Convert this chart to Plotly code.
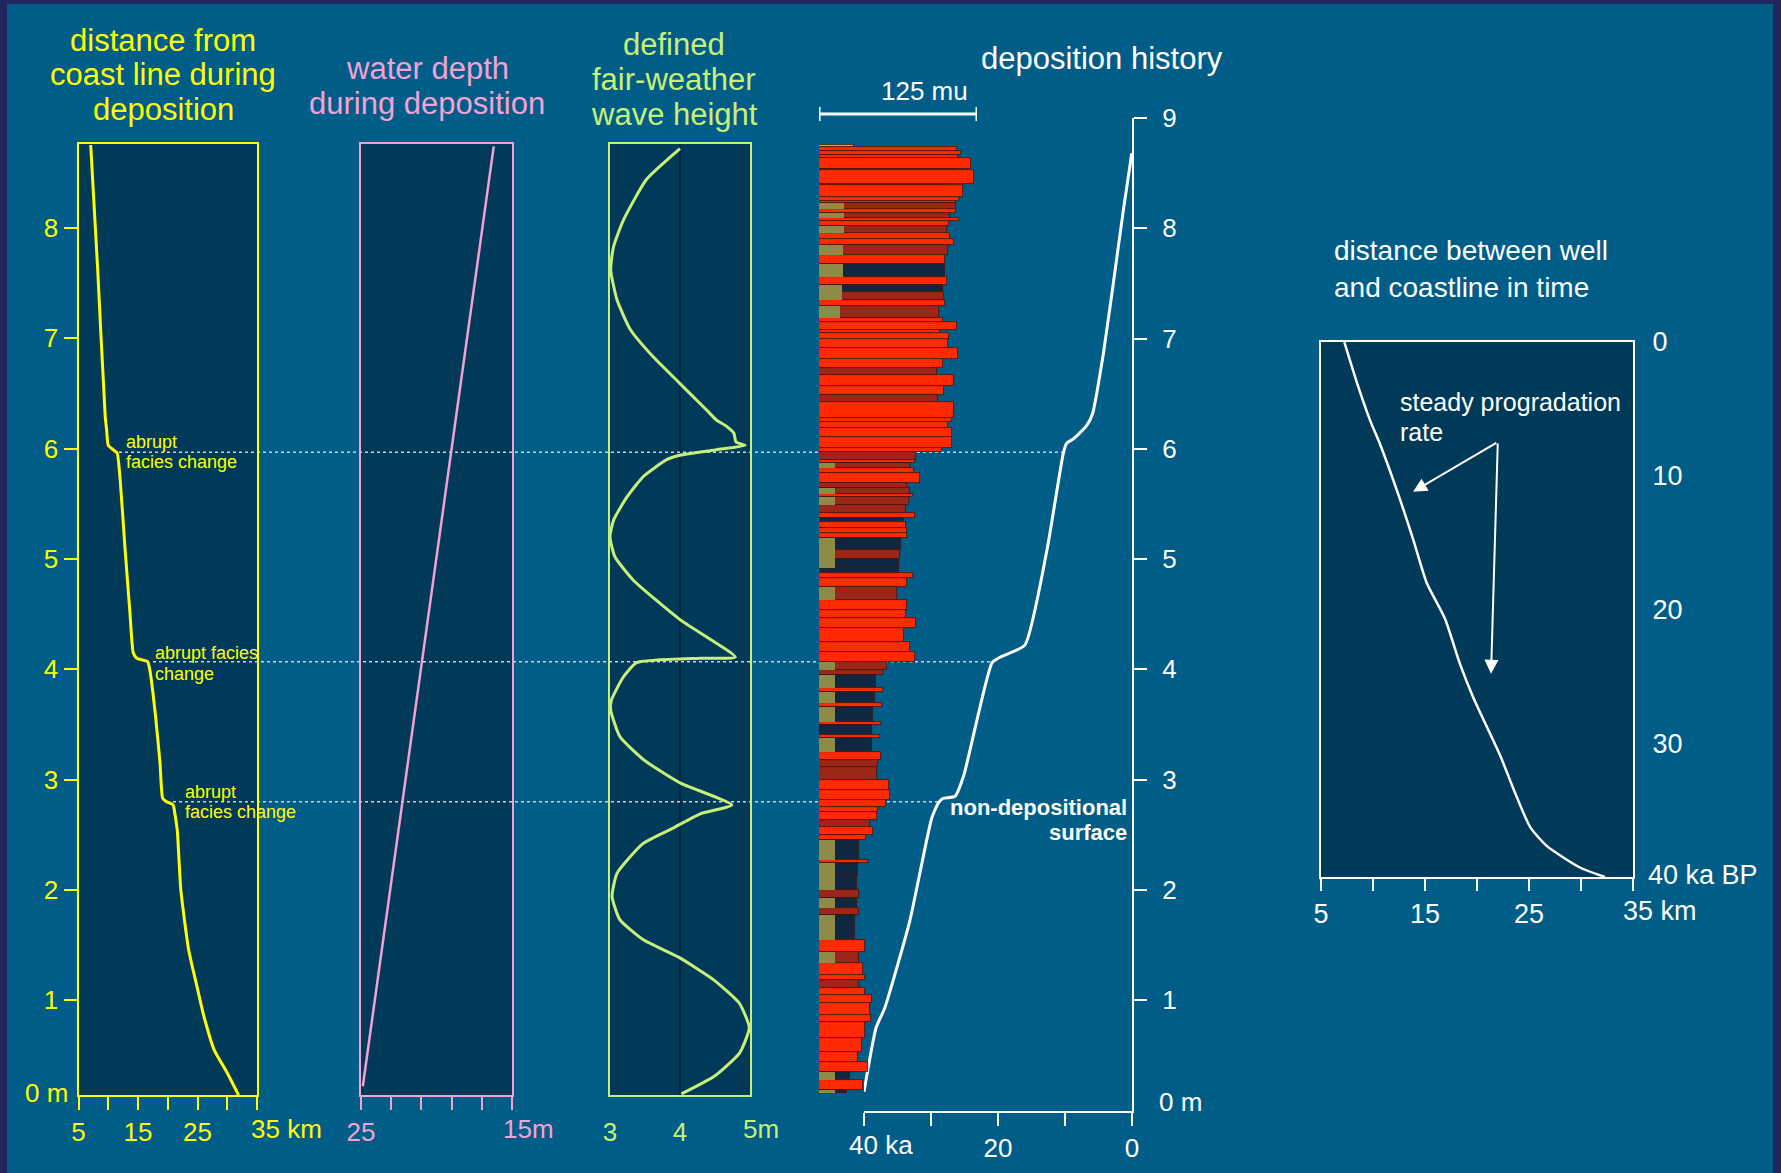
import plotly.graph_objects as go

W, H = 1781, 1173

# ---------------- data ----------------
# Panel 1: distance from coast line during deposition (km) against depth (m)
coast_depth = [8.753, 7.65, 6.29, 6.17, 6.03, 5.99, 5.96, 5.72, 5.11, 4.51, 4.15, 4.10, 4.07, 3.99,
               3.60, 3.15, 2.83, 2.80, 2.77, 2.69, 2.54, 2.0, 1.46, 1.15, 0.85, 0.55, 0.34, 0.14]
coast_km = [7.05, 8.2, 9.49, 9.73, 10.0, 10.85, 11.5, 12.0, 12.8, 13.65, 14.2, 14.8, 16.6, 17.0,
            17.9, 18.7, 19.15, 19.8, 20.9, 21.2, 21.6, 22.2, 23.5, 24.8, 26.1, 27.8, 30.0, 31.9]

# Panel 2: water depth during deposition (m)
water_depth_pos = [0.22, 8.74]
water_depth_m = [24.88, 16.21]

# Panel 3: defined fair-weather wave height (m)
wave_depth = [8.72, 8.44, 8.07, 7.83, 7.62, 7.35, 7.08, 6.83, 6.59, 6.35, 6.26, 6.20, 6.14, 6.06,
              6.03, 5.99, 5.94, 5.90, 5.75, 5.56, 5.35, 5.20, 5.02, 4.81, 4.45, 4.11, 4.10, 4.06,
              3.93, 3.72, 3.63, 3.39, 3.18, 2.97, 2.77, 2.69, 2.56, 2.42, 2.15, 1.94, 1.73, 1.55,
              1.39, 1.18, 0.97, 0.75, 0.52, 0.31, 0.15]
wave_height = [4.0, 3.52, 3.19, 3.05, 3.01, 3.10, 3.29, 3.62, 4.0, 4.38, 4.52, 4.67, 4.77, 4.80,
               4.93, 4.52, 4.00, 3.81, 3.48, 3.24, 3.05, 3.00, 3.07, 3.33, 4.00, 4.79, 4.29, 3.38,
               3.19, 3.02, 3.01, 3.14, 3.48, 4.00, 4.74, 4.29, 3.90, 3.47, 3.10, 3.03, 3.14, 3.47,
               3.98, 4.49, 4.85, 4.99, 4.85, 4.49, 4.02]

# Deposition column: bed boundaries (m, top to bottom), bed size (mu), kind, olive part (mu)
bed_bounds = [8.753, 8.735, 8.700, 8.660, 8.633, 8.542, 8.527, 8.400, 8.391, 8.285, 8.250, 8.225,
              8.173, 8.143, 8.090, 8.064, 8.022, 7.953, 7.907, 7.847, 7.756, 7.672, 7.560, 7.484,
              7.420, 7.348, 7.297, 7.188, 7.146, 7.076, 7.046, 6.995, 6.910, 6.819, 6.729, 6.668,
              6.571, 6.487, 6.426, 6.281, 6.245, 6.185, 6.109, 6.009, 5.967, 5.900, 5.868, 5.822,
              5.777, 5.686, 5.641, 5.590, 5.560, 5.490, 5.414, 5.369, 5.339, 5.278, 5.233, 5.188,
              5.082, 5.000, 4.916, 4.870, 4.825, 4.749, 4.628, 4.538, 4.462, 4.372, 4.250, 4.160,
              4.069, 3.994, 3.948, 3.828, 3.797, 3.692, 3.661, 3.525, 3.495, 3.404, 3.374, 3.253,
              3.180, 3.117, 2.996, 2.906, 2.815, 2.754, 2.709, 2.634, 2.573, 2.498, 2.452, 2.271,
              2.241, 2.135, 1.999, 1.924, 1.834, 1.772, 1.546, 1.440, 1.335, 1.228, 1.183, 1.108,
              1.047, 0.972, 0.866, 0.805, 0.655, 0.533, 0.442, 0.352, 0.277, 0.186, 0.156]
bed_size = [28, 109, 112, 110, 120, 109, 123, 102, 114, 111, 108, 108,
            108, 104, 111, 103, 101, 104, 107, 102, 100, 100, 101, 98,
            99, 100, 95, 98, 109, 96, 103, 102, 110, 98, 93, 107,
            99, 94, 107, 105, 102, 105, 105, 97, 77, 76, 72, 75,
            80, 70, 72, 74, 71, 69, 76, 67, 69, 70, 70, 65,
            64, 63, 63, 74, 70, 62, 70, 69, 77, 67, 72, 76,
            54, 51, 45, 51, 44, 50, 43, 49, 42, 48, 42, 49,
            47, 46, 55, 56, 53, 47, 46, 40, 43, 37, 32, 39,
            31, 30, 32, 30, 32, 28.5, 36, 32, 35, 36, 32, 36,
            42, 40, 41, 36, 34, 31, 39, 24.5, 34.5, 22]
bed_kind = ['y', 'r', 'r', 'r', 'r', 'd', 'r', 'd', 'r', 'r', 'r', 'd',
            'r', 'd', 'r', 'r', 'd', 'r', 'r', 'd', 'r', 'n', 'r', 'n',
            'd', 'r', 'd', 'r', 'r', 'r', 'r', 'r', 'r', 'r', 'd', 'r',
            'r', 'd', 'r', 'r', 'r', 'r', 'r', 'r', 'd', 'r', 'd', 'r',
            'r', 'd', 'd', 'r', 'd', 'd', 'r', 'n', 'r', 'r', 'r', 'n',
            'd', 'n', 'n', 'r', 'r', 'd', 'r', 'r', 'r', 'r', 'r', 'r',
            'd', 'd', 'n', 'r', 'n', 'r', 'n', 'r', 'n', 'r', 'n', 'r',
            'd', 'd', 'r', 'r', 'r', 'r', 'r', 'd', 'r', 'r', 'n', 'r',
            'n', 'n', 'd', 'n', 'd', 'n', 'r', 'd', 'r', 'r', 'd', 'r',
            'r', 'r', 'r', 'r', 'r', 'r', 'r', 'n', 'r', 'n']
bed_olive = [0, 0, 0, 0, 0, 0, 0, 0, 0, 0, 0, 20,
             0, 20, 0, 0, 20, 0, 0, 19, 0, 19, 0, 18,
             18, 0, 17, 0, 0, 0, 0, 0, 0, 0, 0, 0,
             0, 0, 0, 0, 0, 0, 0, 0, 0, 0, 13, 0,
             0, 0, 13, 0, 13, 0, 0, 0, 0, 0, 0, 13,
             13, 13, 0, 0, 0, 13, 0, 0, 0, 0, 0, 0,
             13, 0, 13, 0, 13, 0, 13, 0, 0, 0, 13, 0,
             0, 0, 0, 0, 0, 0, 0, 0, 0, 0, 13, 0,
             13, 13, 0, 13, 0, 13, 0, 13, 0, 0, 0, 0,
             0, 0, 0, 0, 0, 0, 0, 13, 0, 13]
scale_bar_mu = 125

# Deposition history: age (ka) against depth (m)
hist_age = [40.0, 38.2, 36.9, 33.2, 29.9, 28.9, 28.2, 26.4, 25.1, 20.9, 19.7, 16.0, 12.7,
            10.25, 9.75, 8.76, 6.77, 5.87, 5.27, 4.28, 2.79, 1.3, 0.3, 0.05]
hist_depth = [0.17, 0.75, 0.93, 1.71, 2.65, 2.79, 2.83, 2.85, 3.04, 4.06, 4.11, 4.22, 5.08,
              5.96, 6.05, 6.09, 6.21, 6.32, 6.50, 6.86, 7.50, 8.16, 8.57, 8.68]

# Abrupt facies changes (m)
facies_change_depth = [5.97, 4.07, 2.80]

# Distance between well and coastline in time
shore_km = [7.24, 8.43, 9.71, 10.67, 12.43, 13.87, 15.16, 16.92, 18.37, 19.65, 22.21, 23.49,
            25.1, 26.7, 29.9, 32.3]
shore_ka = [0, 2.98, 5.84, 7.63, 11.39, 14.78, 18.0, 20.69, 24.08, 26.59, 30.88, 33.38,
            36.25, 37.67, 39.29, 40]

# ---------------- styles ----------------
YEL = '#ffff00'
PINK = '#f2a2d4'
GREEN = '#c8f078'
WHITE = '#ffffff'
BG = '#005d87'
PANEL = '#003a58'
BORDER = '#22265e'
FONT = 'Liberation Sans, Arial, sans-serif'
KIND_COLOR = {'r': '#ff2a00', 'd': '#9c2618', 'n': '#0f2740', 'y': '#d8c420'}
TICK = 26


def px(x):
    return x / W


def py(y):
    return 1 - y / H


def dom_x(a, b):
    return [a / W, b / W]


def dom_y(top, bottom):
    return [1 - bottom / H, 1 - top / H]


fig = go.Figure()

fig.add_trace(go.Scatter(x=coast_km, y=coast_depth, mode='lines', xaxis='x', yaxis='y',
                         line=dict(color=YEL, width=3, shape='spline', smoothing=0.5),
                         hoverinfo='skip'))
fig.add_trace(go.Scatter(x=water_depth_m, y=water_depth_pos, mode='lines', xaxis='x2', yaxis='y2',
                         line=dict(color=PINK, width=2.5), hoverinfo='skip'))
fig.add_trace(go.Scatter(x=wave_height, y=wave_depth, mode='lines', xaxis='x3', yaxis='y3',
                         line=dict(color=GREEN, width=3, shape='spline', smoothing=0.5),
                         hoverinfo='skip'))

# deposition column bars
bed_mid = [(bed_bounds[i] + bed_bounds[i + 1]) / 2 for i in range(len(bed_size))]
bed_thick = [bed_bounds[i] - bed_bounds[i + 1] for i in range(len(bed_size))]
fig.add_trace(go.Bar(orientation='h', x=bed_size, y=bed_mid, width=bed_thick, base=0,
                     xaxis='x5', yaxis='y4',
                     marker=dict(color=[KIND_COLOR[k] for k in bed_kind],
                                 line=dict(color='#4a1208', width=0.8)),
                     hoverinfo='skip'))
fig.add_trace(go.Bar(orientation='h', x=bed_olive, y=bed_mid, width=bed_thick, base=0,
                     xaxis='x5', yaxis='y4',
                     marker=dict(color='#8f8a48', line=dict(width=0)),
                     hoverinfo='skip'))

fig.add_trace(go.Scatter(x=hist_age, y=hist_depth, mode='lines', xaxis='x4', yaxis='y4',
                         line=dict(color=WHITE, width=3, shape='spline', smoothing=0.5),
                         hoverinfo='skip'))
fig.add_trace(go.Scatter(x=shore_km, y=shore_ka, mode='lines', xaxis='x6', yaxis='y6',
                         line=dict(color=WHITE, width=2.5, shape='spline', smoothing=0.6),
                         hoverinfo='skip'))

depth_range = [0.1405, 8.762]
box_dom_y = dom_y(144, 1095)
common = dict(showgrid=False, zeroline=False, fixedrange=True, automargin=False)

layout_axes = dict(
    xaxis=dict(domain=dom_x(78.5, 257), range=[5, 35], anchor='y', showline=True, mirror=True,
               linecolor=YEL, linewidth=2, ticks='outside', ticklen=13, tickwidth=2, tickcolor=YEL,
               tickvals=[5, 10, 15, 20, 25, 30, 35], ticktext=['5', '', '15', '', '25', '', ''],
               tickfont=dict(color=YEL, size=TICK), **common),
    yaxis=dict(domain=box_dom_y, range=depth_range, anchor='x', showline=True, mirror=True,
               linecolor=YEL, linewidth=2, ticks='outside', ticklen=13, tickwidth=2, tickcolor=YEL,
               tickvals=[1, 2, 3, 4, 5, 6, 7, 8], tickfont=dict(color=YEL, size=TICK), **common),
    xaxis2=dict(domain=dom_x(361, 512), range=[25, 15], anchor='y2', showline=True, mirror=True,
                linecolor=PINK, linewidth=2, ticks='outside', ticklen=13, tickwidth=2, tickcolor=PINK,
                tickvals=[25, 23, 21, 19, 17, 15], ticktext=['25', '', '', '', '', ''],
                tickfont=dict(color=PINK, size=TICK), **common),
    yaxis2=dict(domain=box_dom_y, range=depth_range, anchor='x2', showline=True, mirror=True,
                linecolor=PINK, linewidth=2, ticks='', showticklabels=False, **common),
    xaxis3=dict(domain=dom_x(610, 750), range=[3, 5], anchor='y3', showline=True, mirror=True,
                linecolor=GREEN, linewidth=2, ticks='outside', ticklen=13, tickcolor='rgba(0,0,0,0)',
                tickvals=[3, 4, 5], ticktext=['3', '4', ''],
                tickfont=dict(color=GREEN, size=TICK), **common),
    yaxis3=dict(domain=box_dom_y, range=depth_range, anchor='x3', showline=True, mirror=True,
                linecolor=GREEN, linewidth=2, ticks='', showticklabels=False, **common),
    xaxis4=dict(domain=dom_x(864, 1132), range=[40, 0], anchor='y4', showline=True,
                linecolor=WHITE, linewidth=2, ticks='outside', ticklen=13, tickwidth=2, tickcolor=WHITE,
                tickvals=[40, 30, 20, 10, 0], ticktext=['', '', '20', '', '0'],
                tickfont=dict(color=WHITE, size=TICK), **common),
    yaxis4=dict(domain=dom_y(118, 1110.5), range=[0, 9], anchor='x4', side='right', showline=True,
                linecolor=WHITE, linewidth=2, ticks='outside', ticklen=13, tickwidth=2, tickcolor=WHITE,
                tickvals=[1, 2, 3, 4, 5, 6, 7, 8, 9], ticklabelstandoff=10,
                tickfont=dict(color=WHITE, size=TICK), **common),
    xaxis5=dict(domain=dom_x(819, 977), range=[0, 125], anchor='y4', visible=False, **common),
    xaxis6=dict(domain=dom_x(1321, 1633), range=[5, 35], anchor='y6', showline=True, mirror=True,
                linecolor=WHITE, linewidth=2, ticks='outside', ticklen=12, tickwidth=2, tickcolor=WHITE,
                tickvals=[5, 10, 15, 20, 25, 30, 35], ticktext=['5', '', '15', '', '25', '', ''],
                tickfont=dict(color=WHITE, size=27), **common),
    yaxis6=dict(domain=dom_y(342, 877), range=[40, 0], anchor='x6', side='right', showline=True,
                mirror=True, linecolor=WHITE, linewidth=2, ticks='',
                tickvals=[0, 10, 20, 30], ticklabelstandoff=12,
                tickfont=dict(color=WHITE, size=27), **common),
)

shapes = [
    dict(type='rect', xref='paper', yref='paper', x0=px(7), x1=px(1773), y0=0, y1=py(4),
         fillcolor=BG, line=dict(width=0), layer='below'),
]
for xa, ya in [('x', 'y'), ('x2', 'y2'), ('x3', 'y3'), ('x6', 'y6')]:
    shapes.append(dict(type='rect', xref=xa + ' domain', yref=ya + ' domain', x0=0, x1=1, y0=0, y1=1,
                       fillcolor=PANEL, line=dict(width=0), layer='below'))
# reference line at 4 m wave height
shapes.append(dict(type='line', xref='x3', yref='y3 domain', x0=4, x1=4, y0=0, y1=1,
                   line=dict(color='#0a2236', width=1.5), layer='below'))
# dotted lines for the abrupt facies changes
dot_spans = [(119, 1063), (153, 992), (173, 938)]
for d, (xs, xe) in zip(facies_change_depth, dot_spans):
    shapes.append(dict(type='line', xref='paper', yref='y4', x0=px(xs), x1=px(xe), y0=d, y1=d,
                       line=dict(color='#c9d3dc', width=1.5, dash='dot'), layer='below'))
# scale bar 125 mu
shapes += [
    dict(type='line', xref='x5', yref='paper', x0=0, x1=scale_bar_mu, y0=py(114), y1=py(114),
         line=dict(color=WHITE, width=3)),
    dict(type='line', xref='x5', yref='paper', x0=0, x1=0, y0=py(107), y1=py(121),
         line=dict(color=WHITE, width=3)),
    dict(type='line', xref='x5', yref='paper', x0=scale_bar_mu, x1=scale_bar_mu, y0=py(107), y1=py(121),
         line=dict(color=WHITE, width=3)),
]


def ann(text, x, y, color, size, xanchor='center', bold=False):
    if bold:
        text = '<b>' + text + '</b>'
    return dict(text=text, x=px(x), y=py(y), xref='paper', yref='paper', showarrow=False,
                xanchor=xanchor, yanchor='middle', align=xanchor if xanchor != 'center' else 'center',
                font=dict(color=color, size=size, family=FONT))


def lines(texts, x, ys, color, size, xanchor='center', bold=False):
    return [ann(t, x, y, color, size, xanchor, bold) for t, y in zip(texts, ys)]


annotations = []
annotations += lines(['distance from', 'coast line during', 'deposition'], 163, [41, 75, 109], YEL, 31)
annotations += lines(['water depth', 'during deposition'], 427, [68, 103], PINK, 31)
annotations += lines(['defined', 'fair-weather', 'wave height'], 674, [44, 80, 115], GREEN, 31)
annotations += [ann('deposition history', 1102, 58, WHITE, 31),
                ann('125 mu', 924, 91, WHITE, 26)]
annotations += lines(['distance between well', 'and coastline in time'], 1332, [251, 287], WHITE, 28, 'left')
annotations += lines(['steady progradation', 'rate'], 1398, [402, 432], WHITE, 25, 'left')
annotations += lines(['non-depositional', 'surface'], 1129, [807, 832], WHITE, 22, 'right', bold=True)
annotations += lines(['abrupt', 'facies change'], 124, [442, 462], YEL, 18, 'left')
annotations += lines(['abrupt facies', 'change'], 153, [653, 674], YEL, 18, 'left')
annotations += lines(['abrupt', 'facies change'], 183, [792, 812], YEL, 18, 'left')
annotations += [
    ann('0 m', 70, 1093, YEL, TICK, 'right'),
    ann('35 km', 249, 1129, YEL, TICK, 'left'),
    ann('15m', 501, 1129, PINK, TICK, 'left'),
    ann('5m', 741, 1129, GREEN, TICK, 'left'),
    ann('40 ka', 847, 1145, WHITE, TICK, 'left'),
    ann('0 m', 1157, 1102, WHITE, TICK, 'left'),
    ann('35 km', 1621, 911, WHITE, 27, 'left'),
    ann('40 ka BP', 1646, 875, WHITE, 27, 'left'),
]
# arrows (head on the curve, tail at the label)
for hx, hy in [(13.85, 11.2), (21.35, 24.8)]:
    annotations.append(dict(text='', x=hx, y=hy, xref='x6', yref='y6', ax=22.0, ay=7.48,
                            axref='x6', ayref='y6', showarrow=True, arrowhead=2, arrowsize=1.4,
                            arrowwidth=2, arrowcolor=WHITE))

fig.update_layout(
    width=W, height=H, autosize=False,
    margin=dict(l=0, r=0, t=0, b=0, pad=0, autoexpand=False),
    paper_bgcolor=BORDER, plot_bgcolor='rgba(0,0,0,0)',
    font=dict(family=FONT, color=WHITE), showlegend=False, barmode='overlay', bargap=0,
    shapes=shapes, annotations=annotations, **layout_axes,
)

fig.write_html('out.html', config={'displayModeBar': False, 'responsive': False},
               post_script="document.body.style.margin='0';document.body.style.padding='0';"
                           "document.body.style.overflow='hidden';")
